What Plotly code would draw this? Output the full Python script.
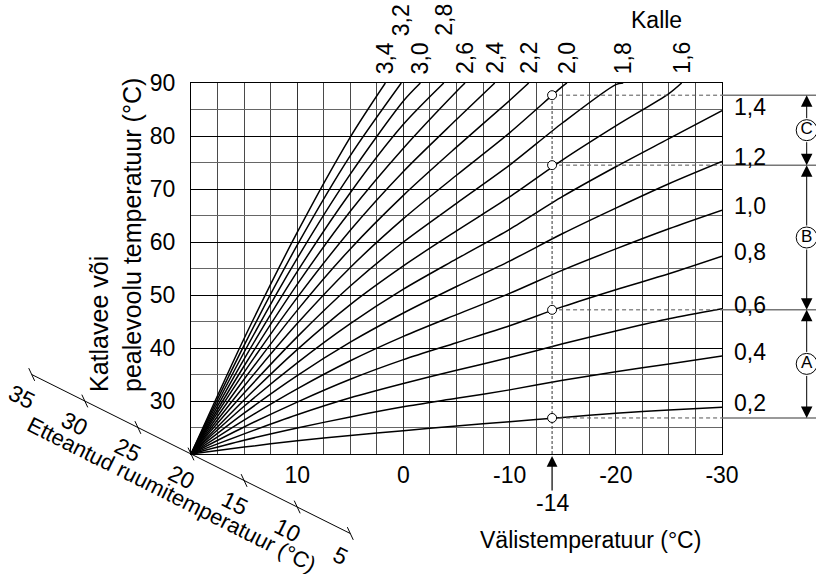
import plotly.graph_objects as go

outside_temp = [20, 15, 10, 5, 0, -5, -10, -15, -20, -25, -30]

# heating curve slopes ("Kalle")
kalle = [0.2, 0.4, 0.6, 0.8, 1.0, 1.2, 1.4, 1.6, 1.8, 2.0, 2.2, 2.4, 2.6, 2.8, 3.0, 3.2, 3.4]

# flow temperature (°C) per curve, at the outside temperatures above
flow_02 = [20, 21.3, 22.5, 23.5, 24.4, 25.3, 26.1, 26.9, 27.7, 28.3, 28.8]
flow_04 = [20, 22.6, 24.9, 27.0, 28.9, 30.5, 32.1, 33.9, 35.5, 37.0, 38.5]
flow_06 = [20, 23.8, 27.4, 30.6, 33.3, 35.8, 38.2, 40.8, 43.2, 45.5, 47.4]
flow_08 = [20, 25.1, 29.8, 34.1, 37.8, 41.0, 44.2, 47.8, 51.0, 54.0, 57.3]
flow_10 = [20, 26.4, 32.3, 37.6, 42.2, 46.3, 50.3, 54.7, 58.7, 62.5, 66.0]
flow_12 = [20, 27.7, 34.8, 41.1, 46.6, 51.6, 56.4, 61.6, 66.4, 71.0, 75.2]
flow_14 = [20, 29.0, 37.2, 44.6, 51.1, 56.8, 62.4, 68.6, 74.2, 79.5, 84.8]
flow_16 = [20, 30.2, 39.7, 48.2, 55.5, 62.1, 68.5, 75.5, 81.9, 88.0]
flow_18 = [20, 31.5, 42.1, 51.7, 60.0, 67.3, 74.5, 82.5, 89.7]
flow_20 = [20, 32.8, 44.6, 55.2, 64.4, 72.6, 80.6, 89.4]
flow_22 = [20, 34.1, 47.1, 58.7, 68.8, 77.9, 86.7]
flow_24 = [20, 35.4, 49.5, 62.2, 73.3, 83.1]
flow_26 = [20, 36.6, 52.0, 65.8, 77.7, 88.4]
flow_28 = [20, 37.9, 54.4, 69.3, 82.2]
flow_30 = [20, 39.2, 56.9, 72.8, 86.6]
flow_32 = [20, 40.5, 59.4, 76.3]
flow_34 = [20, 41.8, 61.8, 79.8]

# outside temperature where the steep curves (1,6 .. 3,4) reach 90 °C
top_exit_temp = [-26.2, -20.7, -15.4, -11.8, -8.6, -5.8, -3.8, -1.6, 0.2, 1.7]
top_label_high = [3.2, 2.8]

# design point and the A / B / C ranges
design_temp = -14
design_flow = [26.8, 47.2, 74.5, 87.7]
range_names = ['A', 'B', 'C']

# room set temperature axis (drawn on the line flow = outside = room temp)
room_temp = [35, 30, 25, 20, 15, 10, 5]

x_ticks = [10, 0, -10, -20, -30]
y_ticks = [30, 40, 50, 60, 70, 80, 90]

flows = [flow_02, flow_04, flow_06, flow_08, flow_10, flow_12, flow_14, flow_16, flow_18,
         flow_20, flow_22, flow_24, flow_26, flow_28, flow_30, flow_32, flow_34]

W, H = 816, 574
PL, PR, PT, PB = 191, 722, 83, 454
FONT = 'Liberation Sans, Arial, sans-serif'
FS = 23

kx = (PR - PL) / 50.0
ky = (PB - PT) / 70.0
x2_range = [20 + PL / kx, -30 - (W - PR) / kx]
y2_range = [20 - (H - PB) / ky, 90 + PT / ky]


def fmt(k):
    return f'{k:.1f}'.replace('.', ',')


def txt(size=FS):
    return dict(family=FONT, size=size, color='black')


fig = go.Figure()

# heating curves
for i, (k, fl) in enumerate(zip(kalle, flows)):
    xs = outside_temp[:len(fl)]
    ys = list(fl)
    if k >= 1.6:
        xs = xs + [top_exit_temp[i - 7]]
        ys = ys + [90]
    fig.add_trace(go.Scatter(x=xs, y=ys, mode='lines',
                             line=dict(color='black', width=1.5, shape='spline', smoothing=0.8),
                             showlegend=False, hoverinfo='skip'))

# dashed design lines
fig.add_trace(go.Scatter(x=[design_temp, design_temp], y=[20, max(design_flow)], mode='lines',
                         line=dict(color='#333', width=1, dash='3px,2px'), showlegend=False))
for v in design_flow:
    fig.add_trace(go.Scatter(x=[design_temp, -30], y=[v, v], mode='lines',
                             line=dict(color='#555', width=1, dash='4px,3px'), showlegend=False))
    fig.add_trace(go.Scatter(x=[-30, x2_range[1]], y=[v, v], mode='lines', xaxis='x2', yaxis='y2',
                             line=dict(color='#777', width=1.5), showlegend=False))
fig.add_trace(go.Scatter(x=[design_temp] * len(design_flow), y=design_flow, mode='markers',
                         marker=dict(size=9, color='white', line=dict(color='black', width=1)),
                         showlegend=False))

# right-hand A / B / C brackets
bracket_x = 20 - (806.7 - PL) / kx
rad = 10.5 / ky
for lo, hi, name in zip(design_flow[:-1], design_flow[1:], range_names):
    mid = (lo + hi) / 2
    for tip, tail in ((hi, mid + rad), (lo, mid - rad)):
        fig.add_annotation(x=bracket_x, y=tip, ax=bracket_x, ay=tail, xref='x2', yref='y2',
                           axref='x2', ayref='y2', text='', showarrow=True, arrowhead=2,
                           arrowsize=2.3, arrowwidth=1, arrowcolor='black', standoff=0)
    fig.add_trace(go.Scatter(x=[bracket_x], y=[mid], mode='markers+text', text=[name],
                             textposition='middle center', xaxis='x2', yaxis='y2', cliponaxis=False,
                             textfont=txt(17),
                             marker=dict(size=21, color='white', line=dict(color='black', width=1)),
                             showlegend=False))

# room temperature axis
fig.add_trace(go.Scatter(x=room_temp, y=room_temp, mode='lines+markers', xaxis='x2', yaxis='y2',
                         line=dict(color='black', width=1), cliponaxis=False,
                         marker=dict(symbol='line-ns', size=10, angle=-25,
                                     line=dict(color='black', width=1)),
                         showlegend=False))
for r in room_temp:
    fig.add_annotation(x=r, y=r, xref='x2', yref='y2', text=str(r), showarrow=False,
                       xanchor='center', yanchor='middle',
                       xshift=-9.5, yshift=-22.5, textangle=26.6, font=txt())
fig.add_annotation(x=22, y=22, xref='x2', yref='y2', text='Etteantud ruumitemperatuur (°C)',
                   showarrow=False, xanchor='center', yanchor='middle',
                   xshift=2, yshift=-51, textangle=26.6, font=txt(22))

# curve labels at top
for i, k in enumerate(kalle[7:]):
    fig.add_annotation(x=top_exit_temp[i], y=90, text=fmt(k), showarrow=False, textangle=-90,
                       xanchor='center', yanchor='middle',
                       yshift=63 if k in top_label_high else 25, font=txt())
# curve labels on the right
for k, fl in zip(kalle[:7], flows[:7]):
    fig.add_annotation(x=-30, y=fl[-1], text=fmt(k), showarrow=False, xanchor='left',
                       yanchor='middle', xshift=10, yshift=4, font=txt())

fig.add_annotation(x=656.7 / W, y=1 - 20 / H, xref='paper', yref='paper', text='Kalle',
                   xanchor='center', yanchor='middle', showarrow=False, font=txt())

# design temperature arrow
fig.add_annotation(x=design_temp, y=20, ax=0, ay=38, text='', showarrow=True, arrowhead=2,
                   arrowsize=1.8, arrowwidth=1.2, arrowcolor='black', standoff=2)
fig.add_annotation(x=design_temp, y=20, yshift=-49, text=str(design_temp), showarrow=False,
                   xanchor='center', yanchor='middle', font=txt())

fig.add_annotation(x=590.5 / W, y=1 - 540 / H, xref='paper', yref='paper',
                   text='Välistemperatuur (°C)', showarrow=False,
                   xanchor='center', yanchor='middle', font=txt())
fig.add_annotation(x=115 / W, y=1 - 235 / H, xref='paper', yref='paper',
                   text='Katlavee või<br>pealevoolu temperatuur (°C)', align='left',
                   xanchor='center', yanchor='middle',
                   showarrow=False, textangle=-90, font=txt(25))

fig.update_layout(
    width=W, height=H,
    margin=dict(l=0, r=0, t=0, b=0, autoexpand=False),
    paper_bgcolor='white', plot_bgcolor='rgba(0,0,0,0)',
    showlegend=False,
    font=txt(),
    xaxis=dict(domain=[PL / W, PR / W], range=[20, -30], tickmode='array', tickvals=x_ticks,
               ticktext=[str(t) for t in x_ticks], showgrid=True, gridcolor='#333', gridwidth=1,
               zeroline=False, showline=True, mirror=True, linecolor='black', linewidth=1,
               ticks='', ticklabelstandoff=0, automargin=False,
               minor=dict(tickmode='linear', tick0=0, dtick=2.5, showgrid=True,
                          gridcolor='#4a4a4a', gridwidth=1),
               tickfont=txt()),
    yaxis=dict(domain=[1 - PB / H, 1 - PT / H], range=[20, 90], tickmode='array', tickvals=y_ticks,
               showgrid=True, gridcolor='#000', gridwidth=1, zeroline=False, showline=True,
               mirror=True, linecolor='black', linewidth=1, ticks='', ticklabelstandoff=10,
               automargin=False,
               minor=dict(tickmode='linear', tick0=0, dtick=5, showgrid=True,
                          gridcolor='#666', gridwidth=1),
               tickfont=txt()),
    xaxis2=dict(domain=[0, 1], range=x2_range, anchor='y2', visible=False, fixedrange=True,
                automargin=False),
    yaxis2=dict(domain=[0, 1], range=y2_range, anchor='x2', visible=False, fixedrange=True,
                automargin=False),
)

fig.write_html('out.html', config={'displayModeBar': False},
               post_script="document.body.style.margin='0px';")
